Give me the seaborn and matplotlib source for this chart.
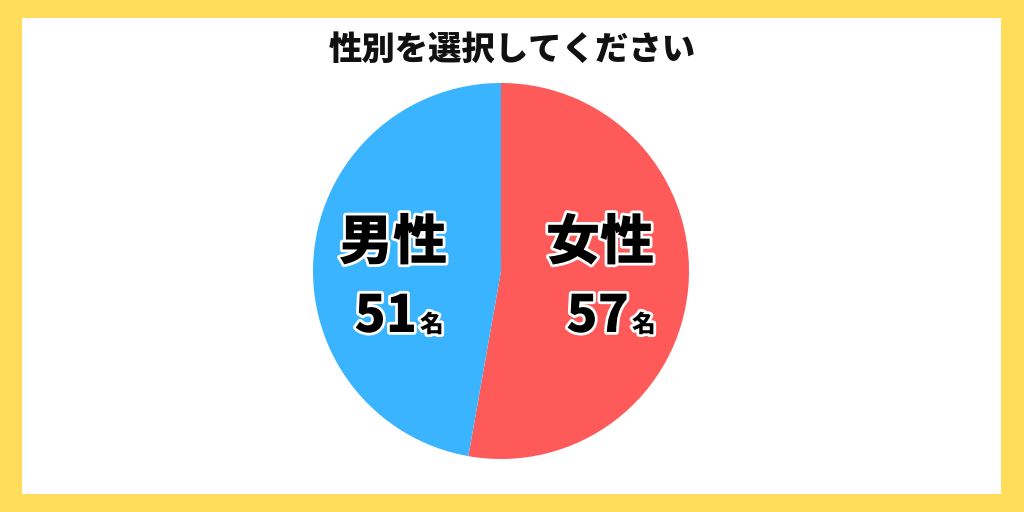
import matplotlib
matplotlib.use("Agg")
import matplotlib.pyplot as plt
import matplotlib.patheffects as pe
from matplotlib.patches import Rectangle
import seaborn as sns

# Data
labels = ["女性", "男性"]
counts = [57, 51]
unit = "名"
title = "性別を選択してください"
colors = ["#FF5A5A", "#3BB4FF"]

sns.set_theme(style="white")
plt.rcParams['font.family'] = ['Noto Sans CJK JP', 'DejaVu Sans']

fig = plt.figure(figsize=(10.24, 5.12), dpi=100, facecolor="#FFDC5A")
ax = fig.add_axes([0, 0, 1, 1])

# white panel inside yellow frame
ax.add_patch(Rectangle((22, 512 - 494), 1001 - 22, 494 - 18, facecolor="white", edgecolor="none", zorder=0))

cx, cy, r = 501, 512 - 271, 188
wedges, _ = ax.pie(counts, colors=colors, startangle=90, counterclock=False,
                   center=(cx, cy), radius=r, frame=True,
                   wedgeprops=dict(linewidth=0))
ax.set_xlim(0, 1024)
ax.set_ylim(0, 512)
ax.set_aspect("equal")
ax.axis("off")

ax.text(512, 512 - 49, title, ha="center", va="center", fontsize=24,
        fontweight=900, color="#111111")

outline = [pe.withStroke(linewidth=4, foreground="white")]
label_pos = [(600, 243), (393, 243)]
num_right = [629, 417]
for lab, n, (lx, ly), nr in zip(labels, counts, label_pos, num_right):
    ax.text(lx, 512 - ly, lab, ha="center", va="center", fontsize=39,
            fontweight=900, color="black", path_effects=outline)
    ax.text(nr, 512 - 332, str(n), ha="right", va="baseline", fontsize=37,
            fontweight=900, color="black", path_effects=outline)
    ax.text(nr + 3, 512 - 332, unit, ha="left", va="baseline", fontsize=17,
            fontweight=900, color="black", path_effects=outline)

fig.savefig("out.png", dpi=100, facecolor=fig.get_facecolor())
